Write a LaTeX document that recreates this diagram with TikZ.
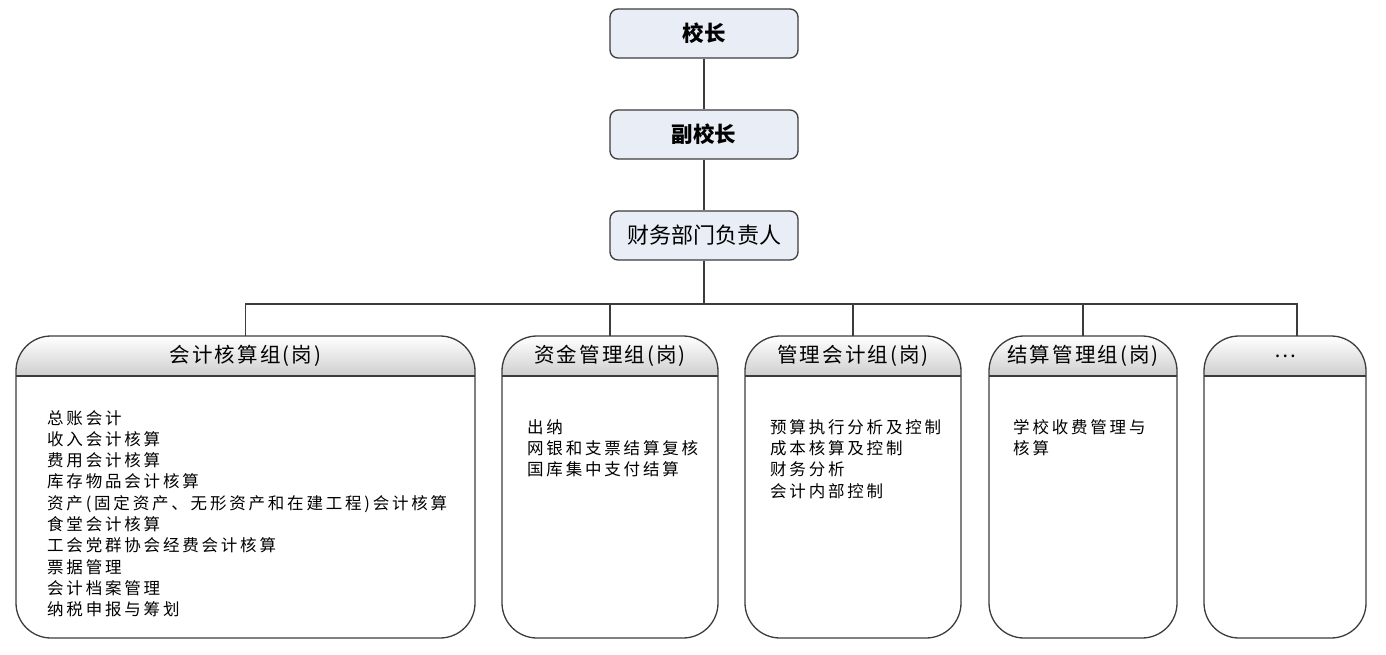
\documentclass[tikz,border=0pt]{standalone}
\usepackage{fontspec}
\setmainfont{Noto Sans CJK SC}
\newfontfamily\bodyfont[LetterSpace=17]{Noto Sans CJK SC}
\newfontfamily\headfont[LetterSpace=10]{Noto Sans CJK SC}
\usetikzlibrary{calc}
\definecolor{topfill}{RGB}{232,237,246}
\definecolor{edge}{RGB}{60,60,60}
\newcommand\mygroup[4]{%
  \node[grp,minimum width={#3pt-#2pt},minimum height=302pt] (#1) at (#2,336) {};
  \fill[white,rounded corners=35pt] (#1.north west) rectangle (#1.south east);
  \begin{scope}
    \clip[rounded corners=35pt] (#1.north west) rectangle (#1.south east);
    \shade[top color=white,bottom color=gray!38] (#1.north west) rectangle ($(#1.north east)+(0,40)$);
  \end{scope}
  \draw[link,rounded corners=35pt] (#1.north west) rectangle (#1.south east);
  \draw[link] ($(#1.north west)+(0,40)$) -- ($(#1.north east)+(0,40)$);
  \node[head] (#1h) at ($(#1.north)+(0,20)$) {#4};
}
\begin{document}
\begin{tikzpicture}[x=1pt,y=-1pt,
  topbox/.style={draw=edge,line width=1.3pt,fill=topfill,rounded corners=8pt,
    minimum width=188pt,minimum height=49pt,inner sep=0,
    font=\fontsize{22}{24}\selectfont},
  grp/.style={anchor=north west,inner sep=0,outer sep=0},
  link/.style={draw=edge,line width=1.3pt},
  head/.style={inner sep=0,font=\headfont\fontsize{20.5}{24}\selectfont},
  body/.style={inner sep=0,align=left,anchor=north west,
    font=\bodyfont\fontsize{16.5}{21.3}\selectfont}
]
\useasboundingbox (0,0) rectangle (1386,655);
\fill[white] (0,0) rectangle (1386,655);

\node[topbox,font=\fontsize{21.5}{24}\selectfont\bfseries] (xz) at (704,33.5) {校长};
\node[topbox,font=\fontsize{21.5}{24}\selectfont\bfseries] (fxz) at (704,134.5) {副校长};
\node[topbox] (cw) at (704,235.5) {财务部门负责人};

\mygroup{g1}{16}{475}{会计核算组(岗)}
\mygroup{g2}{502}{718}{资金管理组(岗)}
\mygroup{g3}{745}{961}{管理会计组(岗)}
\mygroup{g4}{989}{1177}{结算管理组(岗)}
\mygroup{g5}{1204}{1366}{…}

\node[body] (b1) at (47,410) {总账会计\\收入会计核算\\费用会计核算\\库存物品会计核算\\资产(固定资产、无形资产和在建工程)会计核算\\食堂会计核算\\工会党群协会经费会计核算\\票据管理\\会计档案管理\\纳税申报与筹划};
\node[body] (b2) at (527,419) {出纳\\网银和支票结算复核\\国库集中支付结算};
\node[body] (b3) at (770,419) {预算执行分析及控制\\成本核算及控制\\财务分析\\会计内部控制};
\node[body] (b4) at (1013,419) {学校收费管理与\\核算};

\draw[link] (xz) -- (fxz);
\draw[link] (fxz) -- (cw);
\coordinate (busR) at (1297,304);
\draw[link] (cw.south) -- (cw.south |- busR);
\draw[link] (g1.north) -- (g1.north |- busR) -- (busR) -- (busR |- g5.north);
\foreach \g in {g2,g3,g4} {\draw[link] (\g.north) -- (\g.north |- busR);}
\end{tikzpicture}
\end{document}
